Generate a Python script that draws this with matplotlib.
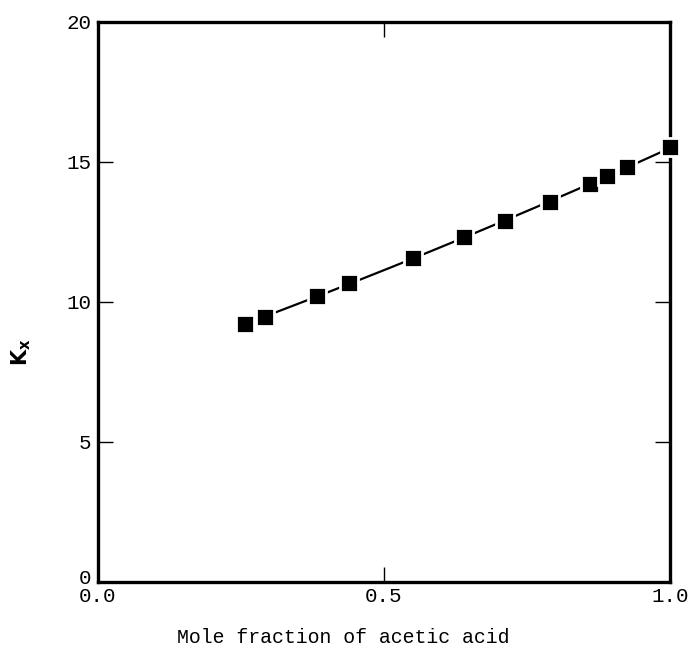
import numpy as np
from matplotlib import pyplot as plt
from matplotlib.transforms import ScaledTranslation

# mole fraction of acetic acid vs K_x
fracao = [0.257, 0.292, 0.383, 0.438, 0.551, 0.640, 0.712, 0.790, 0.861, 0.889, 0.925, 1.0]
kx = [9.19, 9.46, 10.21, 10.66, 11.55, 12.30, 12.90, 13.55, 14.19, 14.49, 14.80, 15.51]

xticks = [0.0, 0.5, 1.0]
xtick_labels = ['0.0', '0.5', '1.0']
yticks = [0, 5, 10, 15, 20]

fonte = 'Liberation Mono'

fig = plt.figure(figsize=(6.91, 6.46), dpi=100)
ax = fig.add_axes([0.1418, 0.0995, 0.8278, 0.8669])

# smooth fitted curve through the points
coef = np.polyfit(fracao, kx, 2)
xs = np.linspace(min(fracao), max(fracao), 200)
ax.plot(xs, np.polyval(coef, xs), color='black', lw=1.6, zorder=2)
ax.plot(fracao, kx, linestyle='none', marker='s', markersize=13.0,
        markerfacecolor='black', markeredgecolor='white', markeredgewidth=2.0,
        zorder=3, clip_on=False)

ax.set_xlim(0, 1.0)
ax.set_ylim(0, 20)
ax.set_xticks(xticks)
ax.set_xticklabels(xtick_labels, fontfamily=fonte, fontsize=15)
ax.set_yticks(yticks)
ax.set_yticklabels([str(v) for v in yticks], fontfamily=fonte, fontsize=15)
ax.tick_params(direction='in', length=11, width=1.0, top=True, right=True)
ax.tick_params(axis='x', pad=4)
ax.tick_params(axis='y', pad=5)

# the "0" on the y axis sits a little above the corner, as in the original
lbl0 = ax.get_yticklabels()[0]
lbl0.set_transform(lbl0.get_transform() + ScaledTranslation(0, 4 / 72, fig.dpi_scale_trans))

for s in ax.spines.values():
    s.set_linewidth(2.4)

ax.set_xlabel('Mole fraction of acetic acid', fontfamily=fonte, fontsize=14.3)
ax.xaxis.set_label_coords(0.428, -0.083)
ax.set_ylabel('K$_\\mathregular{x}$', fontfamily='DejaVu Sans', fontsize=15, fontweight='bold')
ax.yaxis.set_label_coords(-0.114, 0.41)

fig.savefig('out.png', dpi=100)
